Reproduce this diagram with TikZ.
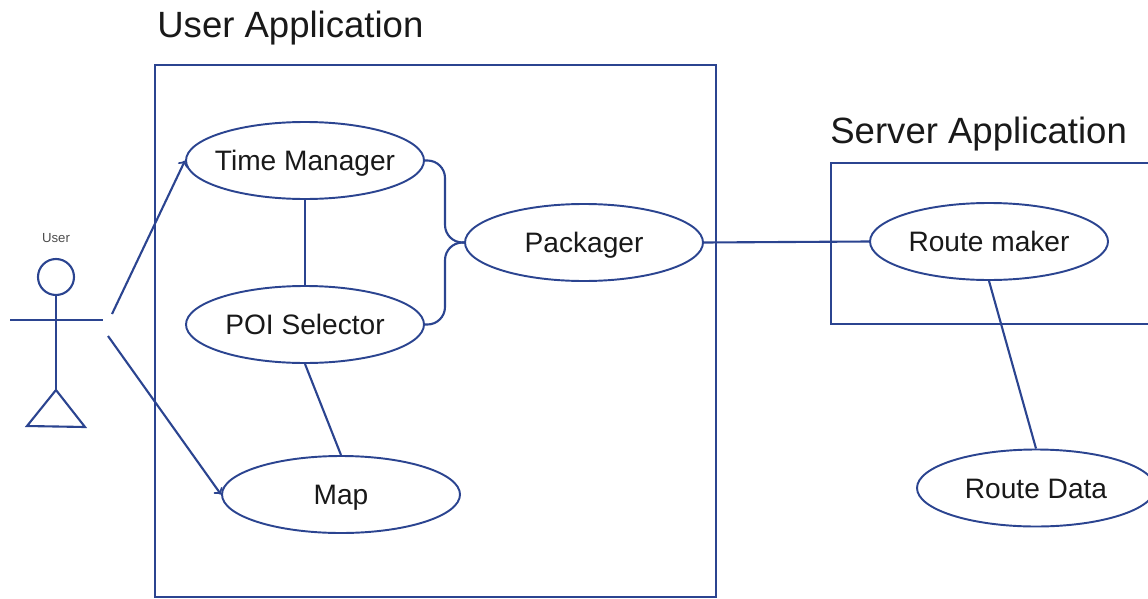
\documentclass[tikz,border=0pt]{standalone}
\usepackage{fontspec}
\setmainfont{Liberation Sans}
\usetikzlibrary{shapes.geometric}

\definecolor{lineblue}{HTML}{2B4490}

\tikzset{
	usecase/.style = {draw = lineblue, ellipse, line width = 1.1pt, inner ysep = 0pt, inner xsep = -8pt, minimum width = 238*0.02cm, minimum height = 77*0.02cm, text height = 11.5pt, text depth = 0pt, font = \fontsize{16}{19}\selectfont, text = black!90},
	title/.style = {anchor = west, inner sep = 0pt, text height = 15pt, text depth = 0pt, font = \fontsize{20.8}{24}\selectfont, text = black!90},
	box/.style = {draw = lineblue, line width = 1.2pt},
	link/.style = {draw = lineblue, line width = 1.2pt}
}

\begin{document}
\begin{tikzpicture}[x = 0.02cm, y = -0.02cm]
			\def\wMAX{1148};
			\def\hMAX{598};

			\useasboundingbox (0,0) rectangle (\wMAX,\hMAX);

			\begin{scope}
				\node [title] (usertitle) at (157,24) {User Application};
				\node [title] (servertitle) at (830,130) {Server Application};

				\draw [box] (1170,163) -- (831,163) -- (831,324) -- (1170,324);
				\draw [box] (155,65) rectangle (716,597);
			\end{scope}

			\begin{scope}
				\node [usecase] (timemanager) at (305,160.5) {Time Manager};
				\node [usecase] (poiselector) at (305,324.5) {POI Selector};
				\node [usecase] (map) at (341,494.5) {Map};
				\node [usecase] (packager) at (584,242.5) {Packager};
				\node [usecase] (routemaker) at (989,241.5) {Route maker};
				\node [usecase] (routedata) at (1036,488) {Route Data};
			\end{scope}

			\begin{scope}[link]
				\node [inner sep = 0pt, font = \fontsize{7.5}{9}\selectfont, text = black!70] (username) at (56,238) {User};
				\node [draw = lineblue, circle, inner sep = 0pt, minimum size = 36*0.02cm] (head) at (56,277) {};
				\coordinate (hip) at (56,390);
				\coordinate (armleft) at (10,320);
				\coordinate (armright) at (103,320);
				\coordinate (footleft) at (27,426);
				\coordinate (footright) at (85,427);
				\coordinate (upstart) at (112,314);
				\coordinate (downstart) at (108,336);

				\draw (head.south) -- (hip);
				\draw (armleft) -- (armright);
				\draw (hip) -- (footleft) -- (footright) -- cycle;
			\end{scope}

			\begin{scope}[link]
				\coordinate (bendtop) at (445,201);
				\coordinate (bendbottom) at (445,283);

				\draw [->] (upstart) -- (timemanager.west);
				\draw [->] (downstart) -- (map.west);
				\draw (timemanager.south) -- (poiselector.north);
				\draw (poiselector.south) -- (map.north);
				\draw [rounded corners = 10pt] (timemanager.east) -| (bendtop) |- (packager.west);
				\draw [rounded corners = 10pt] (poiselector.east) -| (bendbottom) |- (packager.west);
				\draw (packager.east) -- (routemaker.west);
				\draw (routemaker.south) -- (routedata.north);
			\end{scope}
		\end{tikzpicture}
\end{document}
